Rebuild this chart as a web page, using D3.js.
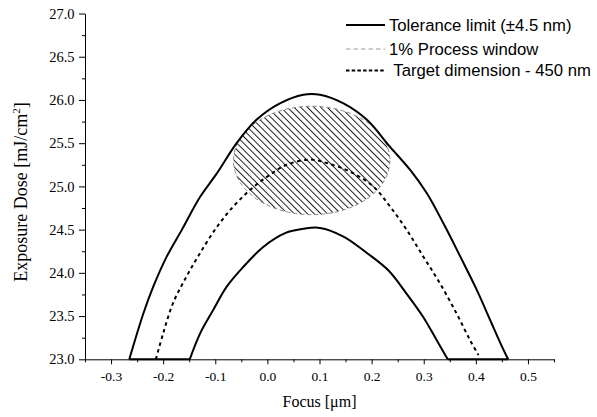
<!DOCTYPE html>
<html lang="en">
<head>
  <meta charset="UTF-8">
  <title>Process window</title>
  <script src="https://d3js.org/d3.v7.min.js"></script>
  <style>
    body { margin: 0; background: #fff; }
    .axis path, .axis line { stroke: #000; stroke-width: 1; }
    .title { font-family: "Liberation Serif", "Times New Roman", serif; fill: #000; }
    .legend text { font-family: "Liberation Sans", Arial, sans-serif; font-size: 16.7px; fill: #000; white-space: pre; }
  </style>
</head>
<body>
<svg width="597" height="417"></svg>
<script>
// focus [um], dose [mJ/cm2]
const toleranceOuter = [
  [-0.265, 23.0], [-0.238, 23.53], [-0.219, 23.84], [-0.193, 24.19], [-0.164, 24.50],
  [-0.129, 24.88], [-0.097, 25.15], [-0.059, 25.50], [-0.021, 25.77], [0.024, 25.96],
  [0.069, 26.06], [0.101, 26.06], [0.146, 25.96], [0.191, 25.77], [0.235, 25.46],
  [0.274, 25.19], [0.306, 24.92], [0.338, 24.57], [0.370, 24.19], [0.402, 23.80],
  [0.430, 23.42], [0.450, 23.15], [0.462, 23.0]
];
const toleranceInner = [
  [-0.149, 23.0], [-0.129, 23.30], [-0.104, 23.57], [-0.078, 23.84], [-0.046, 24.07],
  [-0.008, 24.30], [0.034, 24.46], [0.069, 24.51], [0.101, 24.52], [0.146, 24.42],
  [0.191, 24.23], [0.232, 24.03], [0.267, 23.76], [0.299, 23.49], [0.325, 23.22],
  [0.346, 23.0]
];
const target450 = [
  [-0.214, 23.0], [-0.200, 23.30], [-0.181, 23.65], [-0.155, 23.96], [-0.129, 24.23],
  [-0.097, 24.53], [-0.065, 24.77], [-0.033, 24.96], [-0.001, 25.11], [0.037, 25.25],
  [0.082, 25.31], [0.114, 25.27], [0.159, 25.17], [0.203, 25.00], [0.235, 24.77],
  [0.267, 24.50], [0.299, 24.19], [0.331, 23.88], [0.363, 23.53], [0.389, 23.22],
  [0.405, 23.05]
];
// 1% process window ellipse: centre and half-widths
const windowCenter = [0.085, 25.30];
const windowRadius = [0.150, 0.627];

const xTicks = [-0.3, -0.2, -0.1, 0.0, 0.1, 0.2, 0.3, 0.4, 0.5];
const xTickLabels = ["-0.3", "-0.2", "-0.1", "0.0", "0.1", "0.2", "0.3", "0.4", "0.5"];
const xMinor = [-0.35, -0.25, -0.15, -0.05, 0.05, 0.15, 0.25, 0.35, 0.45, 0.55];
const yTicks = [23.0, 23.5, 24.0, 24.5, 25.0, 25.5, 26.0, 26.5, 27.0];
const yTickLabels = ["23.0", "23.5", "24.0", "24.5", "25.0", "25.5", "26.0", "26.5", "27.0"];
const yMinor = [23.25, 23.75, 24.25, 24.75, 25.25, 25.75, 26.25, 26.75];
const legendLabels = ["Tolerance limit (\u00b14.5 nm)", "1% Process window", " Target dimension - 450 nm"];

const serif = "'Liberation Serif', 'Times New Roman', serif";
const svg = d3.select("svg");

const x = d3.scaleLinear().domain([-0.35, 0.55]).range([85, 554]);
const y = d3.scaleLinear().domain([23, 27]).range([359.3, 13.5]);

// hatch pattern for the process window
svg.append("defs").append("pattern")
  .attr("id", "hatch")
  .attr("patternUnits", "userSpaceOnUse")
  .attr("width", 4.7)
  .attr("height", 10)
  .attr("patternTransform", "rotate(-45)")
  .append("line")
  .attr("x1", 0.5).attr("y1", 0)
  .attr("x2", 0.5).attr("y2", 10)
  .attr("stroke", "#000")
  .attr("stroke-width", 0.9);

svg.append("ellipse")
  .attr("cx", x(windowCenter[0]))
  .attr("cy", y(windowCenter[1]))
  .attr("rx", x(windowCenter[0] + windowRadius[0]) - x(windowCenter[0]))
  .attr("ry", y(windowCenter[1] - windowRadius[1]) - y(windowCenter[1]))
  .attr("fill", "url(#hatch)")
  .attr("stroke", "#888")
  .attr("stroke-width", 1)
  .attr("stroke-dasharray", "4,3");

// axes
svg.append("g")
  .attr("class", "axis")
  .attr("transform", `translate(0,${y(23)})`)
  .call(d3.axisBottom(x).tickValues(xTicks).tickSize(5).tickSizeOuter(0).tickPadding(7.5)
    .tickFormat((d, i) => xTickLabels[i]))
  .attr("font-family", serif)
  .attr("font-size", 13.5);
svg.append("g")
  .attr("class", "axis")
  .attr("transform", `translate(0,${y(23)})`)
  .call(d3.axisBottom(x).tickValues(xMinor).tickSize(3).tickSizeOuter(0).tickFormat(""))
  .select(".domain").remove();

svg.append("g")
  .attr("class", "axis")
  .attr("transform", `translate(${x(-0.35)},0)`)
  .call(d3.axisLeft(y).tickValues(yTicks).tickSize(6).tickSizeOuter(0).tickPadding(4.5)
    .tickFormat((d, i) => yTickLabels[i]))
  .attr("font-family", serif)
  .attr("font-size", 14.5);
svg.append("g")
  .attr("class", "axis")
  .attr("transform", `translate(${x(-0.35)},0)`)
  .call(d3.axisLeft(y).tickValues(yMinor).tickSize(3).tickSizeOuter(0).tickFormat(""))
  .select(".domain").remove();

// curves
const line = d3.line()
  .x(d => x(d[0]))
  .y(d => y(d[1]))
  .curve(d3.curveCatmullRom.alpha(0.5));

svg.append("path")
  .datum(toleranceOuter)
  .attr("d", line)
  .attr("fill", "none")
  .attr("stroke", "#000")
  .attr("stroke-width", 2);

svg.append("path")
  .datum(toleranceInner)
  .attr("d", line)
  .attr("fill", "none")
  .attr("stroke", "#000")
  .attr("stroke-width", 2);

// the tolerance contour closes along the bottom axis
const base = [
  [toleranceOuter[0], toleranceInner[0]],
  [toleranceInner[toleranceInner.length - 1], toleranceOuter[toleranceOuter.length - 1]]
];
svg.selectAll(".base")
  .data(base)
  .enter()
  .append("path")
  .attr("class", "base")
  .attr("d", d3.line().x(d => x(d[0])).y(d => y(d[1])))
  .attr("stroke", "#000")
  .attr("stroke-width", 2);

svg.append("path")
  .datum(target450)
  .attr("d", line)
  .attr("fill", "none")
  .attr("stroke", "#000")
  .attr("stroke-width", 2)
  .attr("stroke-dasharray", "3.5,3.5");

// axis titles
svg.append("text")
  .attr("class", "title")
  .attr("font-size", 16)
  .attr("x", (x(-0.35) + x(0.55)) / 2)
  .attr("y", 407)
  .attr("text-anchor", "middle")
  .text("Focus [\u03bcm]");

const yTitle = svg.append("text")
  .attr("class", "title")
  .attr("font-size", 18)
  .attr("transform", "translate(27,192) rotate(-90)")
  .attr("text-anchor", "middle");
yTitle.append("tspan").text("Exposure Dose [mJ/cm");
yTitle.append("tspan").attr("font-size", "11px").attr("dy", "-7").text("2");
yTitle.append("tspan").attr("dy", "7").text("]");

// legend
const legendStyles = [
  { stroke: "#000", dash: null },
  { stroke: "#999", dash: "4.5,3" },
  { stroke: "#000", dash: "3.5,2.2" }
];
const legendRows = [25, 49, 70.5];

const legend = svg.append("g").attr("class", "legend");
legend.selectAll("line")
  .data(legendLabels)
  .enter()
  .append("line")
  .attr("x1", 346)
  .attr("x2", 385)
  .attr("y1", (d, i) => legendRows[i])
  .attr("y2", (d, i) => legendRows[i])
  .attr("stroke", (d, i) => legendStyles[i].stroke)
  .attr("stroke-width", (d, i) => i == 1 ? 1.2 : 2)
  .attr("stroke-dasharray", (d, i) => legendStyles[i].dash);
legend.selectAll("text")
  .data(legendLabels)
  .enter()
  .append("text")
  .attr("x", 389)
  .attr("y", (d, i) => legendRows[i])
  .attr("dy", "0.35em")
  .text(d => d);
</script>
</body>
</html>
